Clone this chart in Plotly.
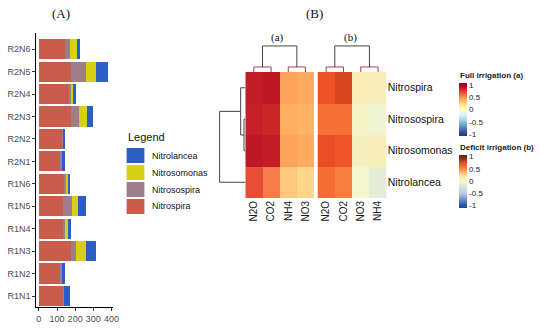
import plotly.graph_objects as go

W, H = 550, 328
def fx(p): return p / W
def fy(p): return 1 - p / H

FONT = "Liberation Sans"
SERIF = "Liberation Serif"

# ---------------- Panel A data ----------------
samples = ["R1N1", "R1N2", "R1N3", "R1N4", "R1N5", "R1N6",
           "R2N1", "R2N2", "R2N3", "R2N4", "R2N5", "R2N6"]
nitrospira   = [136, 122, 177, 131, 131, 136, 122, 131, 177, 169, 177, 143]
nitrosospira = [3, 9, 27, 18, 51, 19, 9, 5, 45, 11, 85, 27]
nitrosomonas = [0, 2, 54, 9, 36, 9, 2, 2, 42, 9, 54, 39]
nitrolancea  = [32, 11, 55, 19, 40, 7, 9, 8, 34, 15, 64, 18]
x_ticks = [0, 100, 200, 300, 400]

series_names = ["Nitrospira", "Nitrosospira", "Nitrosomonas", "Nitrolancea"]
series_vals = [nitrospira, nitrosospira, nitrosomonas, nitrolancea]
series_cols = ["#c95c4a", "#a07d8b", "#d6cf14", "#2b60c2"]

# ---------------- Panel B data ----------------
rows = ["Nitrospira", "Nitrosospira", "Nitrosomonas", "Nitrolancea"]
cols_a = ["N2O", "CO2", "NH4", "NO3"]
full_a = [[0.88, 0.90, 0.43, 0.41],
          [0.87, 0.84, 0.40, 0.38],
          [0.90, 0.88, 0.43, 0.41],
          [0.70, 0.55, 0.30, 0.24]]
cols_b = ["N2O", "CO2", "NO3", "NH4"]
deficit_b = [[0.72, 0.79, 0.14, 0.12],
             [0.61, 0.61, 0.05, -0.03],
             [0.74, 0.71, 0.10, 0.12],
             [0.62, 0.55, 0.02, -0.12]]
cb_ticks = [-1, -0.5, 0, 0.5, 1]
cb_text = ["-1", "-0.5", "0", "0.5", "1"]

# dendrogram merges (child, child, height); leaves 0..3, new nodes 4,5,6
row_merges = [(1, 2, 0.05), (0, 4, 0.18), (5, 3, 1.0)]
col_a_merges = [(0, 1, 0.18), (2, 3, 0.18), (4, 5, 0.93)]
col_b_merges = [(0, 1, 0.18), (2, 3, 0.18), (4, 5, 0.93)]

ZMAX = 1.08
stops_a = [(-1, "#313695"), (-0.8, "#4575b4"), (-0.6, "#74add1"), (-0.4, "#abd9e9"),
           (-0.2, "#e0f3f8"), (0, "#ffffbf"), (0.2, "#fee090"), (0.4, "#fdae61"),
           (0.6, "#f46d43"), (0.8, "#d73027"), (1, "#a50026")]
stops_b = [(-1, "#1b4f9c"), (-0.5, "#bcc6e6"), (0, "#f2f8d2"), (0.25, "#fde3a0"),
           (0.5, "#fb8d45"), (0.75, "#ec4a25"), (1, "#6b2a0e")]

def make_scale(stops):
    cs = [[0.0, stops[0][1]]]
    for v, c in stops:
        cs.append([(v + ZMAX) / (2 * ZMAX), c])
    cs.append([1.0, stops[-1][1]])
    return cs

def dendro(merges, nleaf):
    pos = {i: float(i) for i in range(nleaf)}
    hgt = {i: 0.0 for i in range(nleaf)}
    segs = []
    for k, (a, b, h) in enumerate(merges):
        node = nleaf + k
        pos[node] = (pos[a] + pos[b]) / 2
        hgt[node] = h
        segs.append((h, [pos[a], pos[a], pos[b], pos[b]], [hgt[a], h, h, hgt[b]]))
    return segs

fig = go.Figure()

# ---- stacked bars ----
for name, vals, col in zip(series_names, series_vals, series_cols):
    fig.add_trace(go.Bar(y=samples, x=vals, name=name, orientation="h",
                         marker=dict(color=col, line=dict(width=0)), width=0.9,
                         xaxis="x", yaxis="y", showlegend=False))

def cbar(yc):
    return dict(x=fx(464), xanchor="left", y=fy(yc), yanchor="middle",
                len=53, lenmode="pixels", thickness=8, thicknessmode="pixels",
                xpad=0, ypad=0, outlinewidth=0, tickvals=cb_ticks,
                ticktext=cb_text, ticks="",
                tickfont=dict(size=8, color="#222", family=FONT))

# ---- heatmaps ----
fig.add_trace(go.Heatmap(z=full_a, x=list(range(len(cols_a))), y=list(range(len(rows))),
                         xaxis="x2", yaxis="y2", colorscale=make_scale(stops_a),
                         zmin=-ZMAX, zmax=ZMAX, colorbar=cbar(109.5)))
fig.add_trace(go.Heatmap(z=deficit_b, x=list(range(len(cols_b))), y=list(range(len(rows))),
                         xaxis="x3", yaxis="y3", colorscale=make_scale(stops_b),
                         zmin=-ZMAX, zmax=ZMAX, colorbar=cbar(181)))

# ---- dendrograms ----
def add_dendro(segs, xa, ya, horizontal=False):
    for h, p, hh in segs:
        col = "#b03a55" if (h < 0.5 and not horizontal) else "#444444"
        if horizontal:
            xs, ys = hh, p
        else:
            xs, ys = p, hh
        fig.add_trace(go.Scatter(x=xs, y=ys, mode="lines", xaxis=xa, yaxis=ya,
                                 line=dict(color=col, width=1), hoverinfo="skip",
                                 showlegend=False))

add_dendro(dendro(col_a_merges, 4), "x2", "y4")
add_dendro(dendro(col_b_merges, 4), "x3", "y5")
add_dendro(dendro(row_merges, 4), "x4", "y2", horizontal=True)

axis_common = dict(showgrid=False, zeroline=False, fixedrange=True)

fig.update_layout(
    width=W, height=H, margin=dict(l=0, r=0, t=0, b=0),
    paper_bgcolor="white", plot_bgcolor="rgba(0,0,0,0)",
    barmode="stack", showlegend=False, font=dict(family=FONT),
    xaxis=dict(domain=[fx(36.7), fx(114)], range=[-14.2, 407.5], tickvals=x_ticks,
               showline=True, linecolor="black", linewidth=1, ticks="outside", ticklen=3,
               tickcolor="#333", tickfont=dict(size=9, color="#4d4d4d"), anchor="y",
               **axis_common),
    yaxis=dict(domain=[fy(307), fy(33)], type="category", categoryorder="array",
               categoryarray=samples, range=[-0.49, 11.72], showline=True, linecolor="black",
               linewidth=1, ticks="outside", ticklen=3, tickcolor="#333",
               tickfont=dict(size=9, color="#4d4d4d"), anchor="x", **axis_common),
    xaxis2=dict(domain=[fx(248), fx(317.5)], range=[-0.5, 3.5], tickvals=[0, 1, 2, 3],
                ticktext=cols_a, tickangle=-90, ticks="", showline=False, anchor="y2",
                tickfont=dict(size=10, color="#1a1a1a"), **axis_common),
    yaxis2=dict(domain=[fy(198), fy(72)], range=[3.5, -0.5], showticklabels=False,
                ticks="", anchor="x2", **axis_common),
    xaxis3=dict(domain=[fx(321), fx(391)], range=[-0.5, 3.5], tickvals=[0, 1, 2, 3],
                ticktext=cols_b, tickangle=-90, ticks="", showline=False, anchor="y3",
                tickfont=dict(size=10, color="#1a1a1a"), **axis_common),
    yaxis3=dict(domain=[fy(198), fy(72)], range=[3.5, -0.5], tickvals=[0, 1, 2, 3],
                ticktext=rows, side="right", ticks="", anchor="x3",
                tickfont=dict(size=10.5, color="#111"), **axis_common),
    yaxis4=dict(domain=[fy(72), fy(44)], range=[0, 1], anchor="x2", visible=False,
                **axis_common),
    yaxis5=dict(domain=[fy(72), fy(44)], range=[0, 1], anchor="x3", visible=False,
                **axis_common),
    xaxis4=dict(domain=[fx(221), fx(248)], range=[1.04, 0], anchor="y2", visible=False,
                **axis_common),
)

ann = [
    dict(text="(A)", x=fx(62), y=fy(13), font=dict(family=SERIF, size=13, color="#111")),
    dict(text="(B)", x=fx(318), y=fy(13), font=dict(family=SERIF, size=13, color="#111")),
    dict(text="(a)", x=fx(281), y=fy(37), font=dict(family=SERIF, size=11, color="#111")),
    dict(text="(b)", x=fx(354), y=fy(37), font=dict(family=SERIF, size=11, color="#111")),
    dict(text="<b>Full irrigation (a)</b>", x=fx(463), y=fy(75.5), xanchor="left",
         font=dict(size=8, color="#1a1a1a")),
    dict(text="<b>Deficit irrigation (b)</b>", x=fx(463), y=fy(147), xanchor="left",
         font=dict(size=8, color="#1a1a1a")),
    dict(text="Legend", x=fx(127), y=fy(137), xanchor="left",
         font=dict(size=11, color="#111")),
]
shapes = []
legend_order = list(reversed(range(len(series_names))))
for k, idx in enumerate(legend_order):
    top = 148 + 17 * k
    shapes.append(dict(type="rect", xref="paper", yref="paper", x0=fx(128), x1=fx(146),
                       y0=fy(top + 15), y1=fy(top), fillcolor=series_cols[idx],
                       line=dict(width=0)))
    ann.append(dict(text=series_names[idx], x=fx(152), y=fy(top + 7.5), xanchor="left",
                    font=dict(size=9, color="#111")))

for a in ann:
    a.setdefault("xanchor", "center")
    a.update(xref="paper", yref="paper", yanchor="middle", showarrow=False)
fig.update_layout(annotations=ann, shapes=shapes)

fig.write_html("out.html", config={"displayModeBar": False},
               post_script="document.body.style.margin='0px';")
